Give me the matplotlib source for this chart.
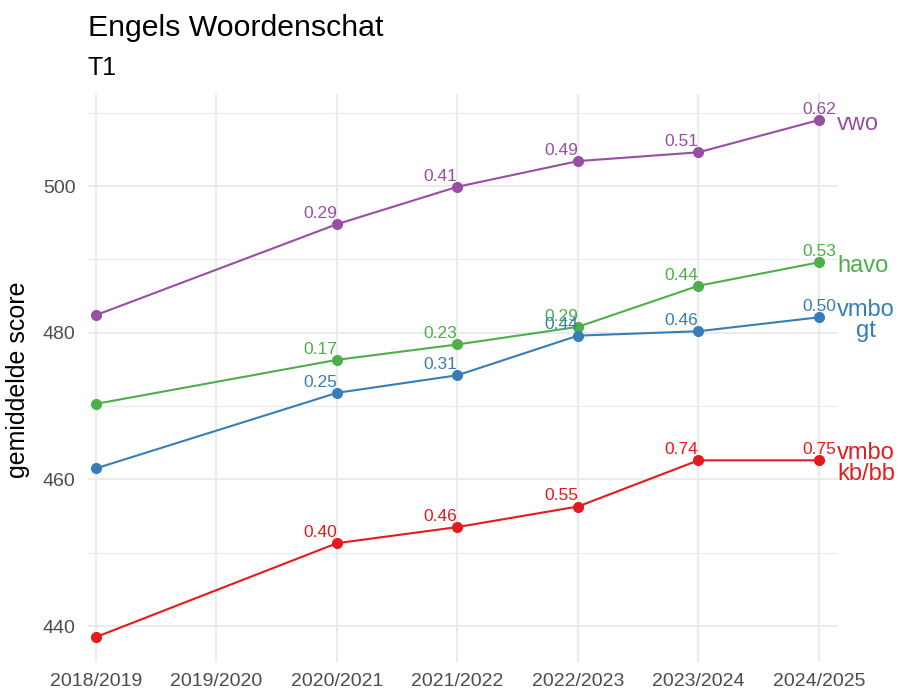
import matplotlib.pyplot as plt
from matplotlib.ticker import MultipleLocator

plt.rcParams['font.family'] = ['Liberation Sans', 'DejaVu Sans']

years = ["2018/2019", "2019/2020", "2020/2021", "2021/2022", "2022/2023", "2023/2024", "2024/2025"]
point_years = ["2018/2019", "2020/2021", "2021/2022", "2022/2023", "2023/2024", "2024/2025"]

vwo = [482.4, 494.8, 499.9, 503.4, 504.6, 509.0]
havo = [470.3, 476.3, 478.4, 480.8, 486.4, 489.6]
vmbo_gt = [461.5, 471.8, 474.2, 479.6, 480.2, 482.1]
vmbo_kbbb = [438.5, 451.3, 453.5, 456.3, 462.6, 462.6]

effect_vwo = [None, 0.29, 0.41, 0.49, 0.51, 0.62]
effect_havo = [None, 0.17, 0.23, 0.29, 0.44, 0.53]
effect_gt = [None, 0.25, 0.31, 0.44, 0.46, 0.50]
effect_kbbb = [None, 0.40, 0.46, 0.55, 0.74, 0.75]

groups = [
    ("vwo", vwo, effect_vwo, "#984EA3"),
    ("havo", havo, effect_havo, "#4DAF4A"),
    ("vmbo\ngt", vmbo_gt, effect_gt, "#377EB8"),
    ("vmbo\nkb/bb", vmbo_kbbb, effect_kbbb, "#E41A1C"),
]

fig = plt.figure(figsize=(9.01, 6.95), dpi=100)
ax = fig.add_axes([88 / 901, 1 - 662 / 695, 750 / 901, 568 / 695])

xpos = [years.index(y) for y in point_years]

for name, vals, eff, col in groups:
    ax.plot(xpos, vals, color=col, lw=1.5, marker="o", markersize=7, zorder=3)
    for i, (x, v, e) in enumerate(zip(xpos, vals, eff)):
        if e is None:
            continue
        # laatste label gecentreerd, de rest rechts uitgelijnd op het punt
        ha = "center" if i == len(xpos) - 1 else "right"
        ax.annotate(f"{e:.2f}", (x, v), xytext=(0, 4.5), textcoords="offset points",
                    ha=ha, va="baseline", fontsize=12.5, color=col, zorder=4)
    ax.annotate(name, (xpos[-1], vals[-1]), xytext=(13, -2.5), textcoords="offset points",
                ha="left", va="center", multialignment="center", fontsize=17,
                color=col, linespacing=0.95, annotation_clip=False)

ax.set_xticks(range(len(years)))
ax.set_xticklabels(years)
ax.set_xlim(-0.066, 6.158)
ax.set_ylim(435.1, 512.55)
ax.yaxis.set_major_locator(MultipleLocator(20))
ax.yaxis.set_minor_locator(MultipleLocator(10))

ax.grid(True, which="major", color="#EBEBEB", lw=1.5, zorder=0)
ax.grid(True, which="minor", axis="y", color="#EBEBEB", lw=0.8, zorder=0)
ax.set_axisbelow(True)
for s in ax.spines.values():
    s.set_visible(False)
ax.tick_params(which="both", length=0, labelsize=14, labelcolor="#4D4D4D")
ax.tick_params(axis="x", pad=8)
ax.tick_params(axis="y", pad=9)

fig.text(18 / 901, 1 - 380 / 695, "gemiddelde score", fontsize=18, rotation=90,
         ha="center", va="center")

fig.text(88 / 901, 1 - 36 / 695, "Engels Woordenschat", fontsize=21.8, ha="left", va="baseline")
fig.text(88 / 901, 1 - 75 / 695, "T1", fontsize=18, ha="left", va="baseline")

fig.savefig("out.png", dpi=100)
